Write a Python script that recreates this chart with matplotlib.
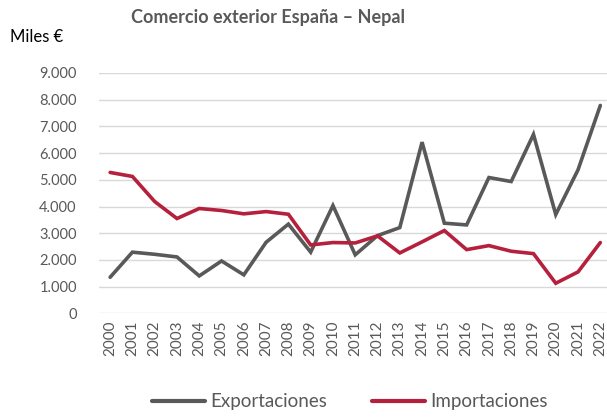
import matplotlib
matplotlib.use("Agg")
import matplotlib.pyplot as plt
from matplotlib.ticker import FuncFormatter

years = [str(y) for y in range(2000, 2023)]
exportaciones = [1350, 2290, 2210, 2110, 1400, 1960, 1440, 2660, 3340, 2290, 4035,
                 2190, 2910, 3210, 6410, 3375, 3310, 5085, 4935, 6700, 3700, 5375, 7785]
importaciones = [5275, 5125, 4185, 3550, 3925, 3850, 3725, 3810, 3710, 2560, 2650,
                 2635, 2900, 2260, 2675, 3100, 2385, 2535, 2325, 2235, 1125, 1550, 2650]

plt.rcParams['font.family'] = ['Lato', 'DejaVu Sans']
txt = '#595959'

fig = plt.figure(figsize=(6.07, 4.17), dpi=100)
ax = fig.add_axes([99/607, 1-313.3/417, 508/607, 240.3/417])

x = list(range(len(years)))
ax.plot(x, exportaciones, color='#595959', lw=2.6, label='Exportaciones', solid_capstyle='round', solid_joinstyle='miter')
ax.plot(x, importaciones, color='#B5213C', lw=2.6, label='Importaciones', solid_capstyle='round', solid_joinstyle='miter')

ax.set_ylim(0, 9000)
ax.set_xlim(-0.5, 22.3)
ax.set_yticks(range(0, 9001, 1000))
ax.yaxis.set_major_formatter(FuncFormatter(lambda v, p: f"{int(v):,}".replace(',', '.')))
ax.set_xticks(x)
ax.set_xticklabels(years, rotation=90)
ax.grid(axis='y', color='#D9D9D9', lw=1)
ax.set_axisbelow(True)
for s in ax.spines.values():
    s.set_visible(False)
ax.tick_params(axis='both', length=0, colors=txt, labelsize=10.5)
ax.tick_params(axis='x', labelsize=11)
ax.tick_params(axis='y', pad=16)
ax.tick_params(axis='x', pad=5)

fig.text(268/607, 1-17/417, 'Comercio exterior España – Nepal', ha='center', va='center',
         fontsize=13, fontweight='bold', color=txt)
fig.text(10/607, 1-37/417, 'Miles €', ha='left', va='center', fontsize=12, color='black')

leg = fig.legend(loc='center', bbox_to_anchor=(350/607, 1-402/417), ncol=2, frameon=False,
                 fontsize=13.5, handlelength=2.8, columnspacing=2.4, handletextpad=0.3)
for line in leg.get_lines():
    line.set_linewidth(3)
for t in leg.get_texts():
    t.set_color(txt)

fig.savefig('out.png', dpi=100)
